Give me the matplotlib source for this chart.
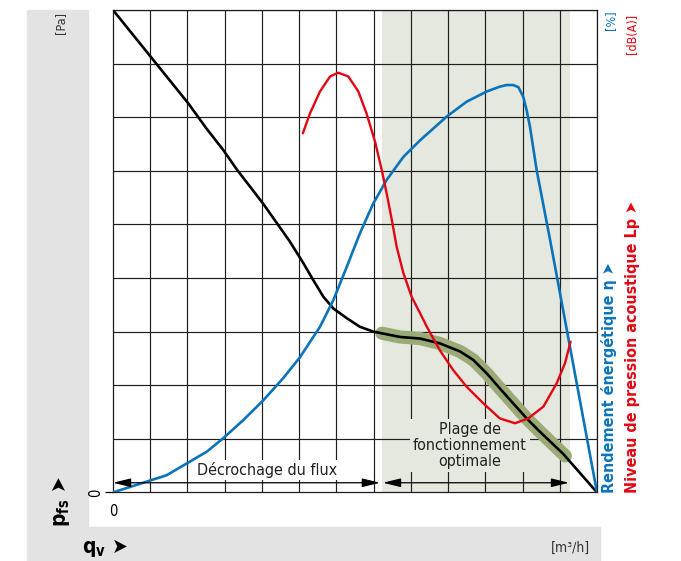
import numpy as np
import matplotlib.pyplot as plt
from matplotlib.patches import Rectangle

plt.rcParams['font.family'] = ['DejaVu Sans']
plt.rcParams['font.stretch'] = 'condensed'
plt.rcParams['mathtext.fontset'] = 'dejavusans'

# Pressure curve p_fs (grid units)
p_q = [0, 2.02, 2.52, 2.96, 3.32, 4.04, 4.75, 5.11, 5.38, 5.65, 5.92, 6.28, 6.63,
       6.99, 7.71, 8.25, 8.78, 9.32, 9.68, 10.04, 10.39, 10.75, 11.11, 11.47,
       12.09, 13.0]
p_val = [9.0, 7.26, 6.78, 6.39, 6.03, 5.38, 4.68, 4.28, 3.96, 3.65, 3.43, 3.25, 3.09,
         3.00, 2.90, 2.87, 2.78, 2.63, 2.47, 2.22, 1.94, 1.66, 1.38, 1.13,
         0.72, 0.0]

# Optimal operating band along the pressure curve
band_q = [7.22, 7.71, 8.25, 8.78, 9.32, 9.68, 10.04, 10.39, 10.75, 11.11, 11.47, 12.15]
band_val = [2.97, 2.90, 2.87, 2.78, 2.63, 2.47, 2.22, 1.94, 1.66, 1.38, 1.13, 0.68]

# Efficiency eta
eta_q = [0, 0.81, 1.44, 1.98, 2.52, 2.96, 3.50, 4.04, 4.57, 5.02, 5.56, 5.92, 6.28,
         6.63, 6.99, 7.35, 7.80, 8.25, 8.96, 9.50, 10.04, 10.39, 10.57, 10.75,
         10.89, 11.02, 11.11, 11.20, 11.38, 11.74, 13.0]
eta_val = [0, 0.18, 0.32, 0.54, 0.76, 1.01, 1.35, 1.72, 2.13, 2.52, 3.09, 3.59, 4.21,
           4.83, 5.39, 5.83, 6.26, 6.57, 7.01, 7.29, 7.48, 7.57, 7.60, 7.60,
           7.56, 7.38, 7.13, 6.82, 6.01, 4.71, 0.0]

# Sound pressure level Lp
lp_q = [5.10, 5.29, 5.56, 5.83, 6.05, 6.32, 6.59, 6.81, 7.04, 7.22, 7.35, 7.49, 7.62,
        7.80, 8.02, 8.25, 8.43, 8.78, 9.14, 9.50, 9.95, 10.39, 10.80, 11.15,
        11.56, 11.92, 12.14, 12.29]
lp_val = [6.70, 7.07, 7.48, 7.76, 7.83, 7.76, 7.48, 7.07, 6.54, 6.01, 5.58, 5.08, 4.58,
          4.09, 3.65, 3.34, 3.09, 2.65, 2.28, 1.97, 1.66, 1.38, 1.29, 1.38,
          1.60, 2.04, 2.41, 2.81]

opt_zone = (7.22, 12.27)
stall_arrow = (0.0, 7.17)
opt_arrow = (7.25, 12.25)

BLUE = '#0a74bb'
RED = '#e30613'
SHADE = '#e5e8de'
GREY = '#e3e3e3'

fig = plt.figure(figsize=(6.81, 5.61), dpi=100)

# grey frame bands
fig.add_artist(Rectangle((27 / 681, 34 / 561), 61 / 681, 517 / 561,
                         transform=fig.transFigure, color=GREY, zorder=0))
fig.add_artist(Rectangle((27 / 681, 0), 573 / 681, 34 / 561,
                         transform=fig.transFigure, color=GREY, zorder=0))

ax = fig.add_axes([113 / 681, 68.6 / 561, 484 / 681, 482.4 / 561])
ax.set_xlim(0, 13)
ax.set_ylim(0, 9)

ax.axvspan(*opt_zone, color=SHADE, lw=0, zorder=0.5)

ax.set_xticks(np.arange(0, 14), minor=True)
ax.set_yticks(np.arange(0, 10), minor=True)
ax.grid(True, which='minor', color='#1e1e1e', lw=0.85)
ax.set_xticks([0])
ax.set_yticks([0])
ax.set_xticklabels(['0'], fontsize=10.5)
ax.set_yticklabels(['0'], fontsize=10.5, rotation=90, va='center')
ax.tick_params(axis='x', which='both', length=0, pad=8)
ax.tick_params(axis='y', which='major', length=6, width=0.9, pad=1)
ax.tick_params(axis='y', which='minor', length=0)
for s in ax.spines.values():
    s.set_color('#1e1e1e')
    s.set_linewidth(0.9)

line_kw = dict(solid_joinstyle='round', solid_capstyle='round')
ax.plot(band_q, band_val, color='#9aab78', lw=9.5, zorder=2, **line_kw)
ax.plot(p_q, p_val, color='black', lw=1.9, zorder=3, **line_kw)
ax.plot(eta_q, eta_val, color=BLUE, lw=1.9, zorder=3, **line_kw)
ax.plot(lp_q, lp_val, color=RED, lw=1.7, zorder=3, **line_kw)

arrow_kw = dict(arrowstyle='<|-|>,head_length=0.9,head_width=0.22', color='black',
                lw=0.9, shrinkA=0, shrinkB=0, mutation_scale=12)
ax.annotate('', xy=(stall_arrow[0], 0.18), xytext=(stall_arrow[1], 0.18),
            arrowprops=arrow_kw, zorder=4)
ax.annotate('', xy=(opt_arrow[0], 0.18), xytext=(opt_arrow[1], 0.18),
            arrowprops=arrow_kw, zorder=4)

ax.text(4.13, 0.42, 'Décrochage du flux', fontsize=11.5, ha='center', va='center',
        color='#222', zorder=1.8, bbox=dict(facecolor='white', edgecolor='none', pad=1.5))
ax.text(9.59, 0.87, 'Plage de\nfonctionnement\noptimale', fontsize=11.5,
        ha='center', va='center', color='#222', linespacing=1.1, zorder=1.8,
        bbox=dict(facecolor=SHADE, edgecolor='none', pad=2))

# axis captions
fig.text(61 / 681, 1 - 12 / 561, '[Pa]', rotation=90, fontsize=9, ha='center',
         va='top', color='#333')
fig.text(61 / 681, 1 - 527 / 561, r'$\mathbf{p}_{\mathbf{fs}}$ ➤', rotation=90,
         fontsize=15, ha='center', va='bottom', fontweight='bold')
fig.text(82 / 681, 1 - 548 / 561, r'$\mathbf{q}_{\mathbf{v}}$ ➤', fontsize=15,
         ha='left', va='center', fontweight='bold')
fig.text(590 / 681, 1 - 548 / 561, '[m³/h]', fontsize=10, ha='right', va='center',
         color='#333')

fig.text(611 / 681, 1 - 10 / 561, '[%]', rotation=90, fontsize=9, ha='center',
         va='top', color=BLUE)
fig.text(633 / 681, 1 - 14 / 561, '[dB(A)]', rotation=90, fontsize=9, ha='center',
         va='top', color=RED)
fig.text(609 / 681, 1 - 493 / 561, 'Rendement énergétique η ➤', rotation=90,
         fontsize=11.5, ha='center', va='bottom', fontweight='bold', color=BLUE)
fig.text(633 / 681, 1 - 493 / 561, 'Niveau de pression acoustique Lp ➤', rotation=90,
         fontsize=11.5, ha='center', va='bottom', fontweight='bold', color=RED)

fig.savefig('out.png', dpi=100)
